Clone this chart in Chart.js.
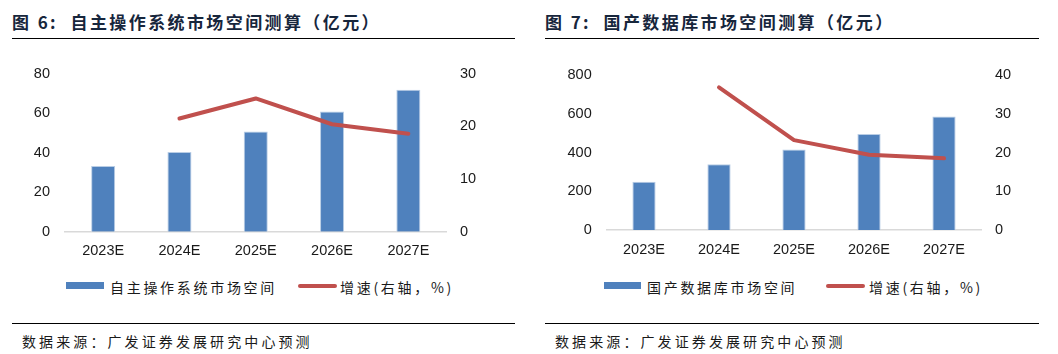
<!DOCTYPE html>
<html>
<head>
<meta charset="utf-8">
<script src="https://cdn.jsdelivr.net/npm/chart.js@4"></script>
<style>
    body { margin: 0; width: 1058px; height: 354px; background: #fff; position: relative; overflow: hidden; }
    .panel { position: absolute; top: 0; height: 354px; }
    .titel { position: absolute; top: 9px; font: bold 17px "Noto Sans CJK SC", sans-serif; letter-spacing: 2.4px; color: #17263c; white-space: pre; }
    .linie { position: absolute; height: 1.5px; background: #000; }
    canvas { position: absolute; top: 50px; }
    .legende { position: absolute; top: 277px; font: 14px "Noto Sans CJK SC", sans-serif; letter-spacing: 2.7px; color: #1a1a1a; white-space: pre; }
    .legende span { position: absolute; top: 0; }
    .kasten { position: absolute; top: 282px; height: 7px; background: #4f81bd; }
    .strich { position: absolute; top: 284px; height: 4px; border-radius: 2px; background: #c0504d; }
    .quelle { position: absolute; top: 331px; font: 14px "Noto Sans CJK SC", sans-serif; letter-spacing: 3.1px; color: #1a1a1a; white-space: pre; }
</style>
</head>
<body>

<!-- Abbildung 6 -->
<div class="titel" style="left:12px">图 6:  自主操作系统市场空间测算（亿元）</div>
<div class="linie" style="left:12px; width:503px; top:37.5px"></div>
<canvas id="osChart" width="530" height="215" style="left:0"></canvas>
<div class="kasten" style="left:66px; width:38px"></div>
<div class="legende" style="left:110px">自主操作系统市场空间</div>
<div class="strich" style="left:298px; width:39px"></div>
<div class="legende" style="left:340px">增速(右轴，%)</div>
<div class="linie" style="left:12px; width:503px; top:322.5px"></div>
<div class="quelle" style="left:22px">数据来源：广发证券发展研究中心预测</div>

<!-- Abbildung 7 -->
<div class="titel" style="left:545px">图 7:  国产数据库市场空间测算（亿元）</div>
<div class="linie" style="left:545px; width:494px; top:37.5px"></div>
<canvas id="dbChart" width="528" height="215" style="left:530px"></canvas>
<div class="kasten" style="left:604px; width:37px"></div>
<div class="legende" style="left:647px">国产数据库市场空间</div>
<div class="strich" style="left:826px; width:39px"></div>
<div class="legende" style="left:869px">增速(右轴，%)</div>
<div class="linie" style="left:545px; width:494px; top:322.5px"></div>
<div class="quelle" style="left:555px">数据来源：广发证券发展研究中心预测</div>

<script>
// Kategorien (beide Charts gleich)
const jahre = ['2023E', '2024E', '2025E', '2026E', '2027E'];

// Abb. 6: Betriebssystem-Markt (亿元) und Wachstum (%)
const osMarkt = [33.3, 40.4, 50.7, 60.8, 71.9];
const osWachstum = [null, 21.5, 25.3, 20.4, 18.6];
const osLinksTicks = [0, 20, 40, 60, 80];
const osRechtsTicks = [0, 10, 20, 30];

// Abb. 7: Datenbank-Markt (亿元) und Wachstum (%)
const dbMarkt = [249, 339, 416, 495, 586];
const dbWachstum = [null, 36.8, 23.2, 19.4, 18.5];
const dbLinksTicks = [0, 200, 400, 600, 800];
const dbRechtsTicks = [0, 10, 20, 30, 40];

const tickFont = {family: '"Liberation Sans", Arial, sans-serif', size: 14.5};
const tickColor = '#1a1a1a';

// Chart erstellen (Balken links, Linie rechts)
function erstelleChart(id, balken, linie, linksTicks, rechtsTicks, m) {
    const config = {
        type: 'bar', data: {
            labels: jahre, datasets: [{
                type: 'line',
                data: linie,
                yAxisID: 'y1',
                borderColor: '#c0504d',
                borderWidth: 4,
                borderCapStyle: 'round',
                borderJoinStyle: 'round',
                pointRadius: 0,
                tension: 0,
                order: 0,
            }, {
                type: 'bar',
                data: balken,
                yAxisID: 'y',
                backgroundColor: '#4f81bd',
                borderColor: '#b9cde5',
                borderWidth: 1,
                categoryPercentage: 1,
                barPercentage: m.balkenAnteil,
                order: 1,
            }]
        }, options: {
            responsive: false, animation: false, devicePixelRatio: 1,
            layout: {padding: {top: m.oben, left: 0, right: 0, bottom: 0}},
            plugins: {legend: {display: false}, tooltip: {enabled: false}},
            scales: {
                x: {
                    grid: {display: false, drawTicks: false},
                    border: {display: true, color: '#d9d9d9', width: 1.5},
                    ticks: {font: tickFont, color: tickColor, padding: 11},
                    afterFit: function (s) { s.height = m.xHoehe; }
                },
                y: {
                    position: 'left', min: linksTicks[0], max: linksTicks[linksTicks.length - 1],
                    grid: {display: false, drawTicks: false}, border: {display: false},
                    afterBuildTicks: function (s) { s.ticks = linksTicks.map(v => ({value: v})); },
                    ticks: {font: tickFont, color: tickColor, padding: m.linksAbstand},
                    afterFit: function (s) { s.width = m.links; }
                },
                y1: {
                    position: 'right', min: rechtsTicks[0], max: rechtsTicks[rechtsTicks.length - 1],
                    grid: {display: false, drawTicks: false}, border: {display: false},
                    afterBuildTicks: function (s) { s.ticks = rechtsTicks.map(v => ({value: v})); },
                    ticks: {font: tickFont, color: tickColor, padding: m.rechtsAbstand},
                    afterFit: function (s) { s.width = m.rechts; }
                }
            }
        }
    };
    return new Chart(document.getElementById(id), config);
}

const osChart = erstelleChart('osChart', osMarkt, osWachstum, osLinksTicks, osRechtsTicks,
    {oben: 23.3, xHoehe: 33.3, links: 65, rechts: 83.5, linksAbstand: 15, rechtsAbstand: 13.5, balkenAnteil: 0.315});

const dbChart = erstelleChart('dbChart', dbMarkt, dbWachstum, dbLinksTicks, dbRechtsTicks,
    {oben: 25, xHoehe: 35, links: 76.5, rechts: 76.5, linksAbstand: 14.8, rechtsAbstand: 13.5, balkenAnteil: 0.31});
</script>
</body>
</html>
